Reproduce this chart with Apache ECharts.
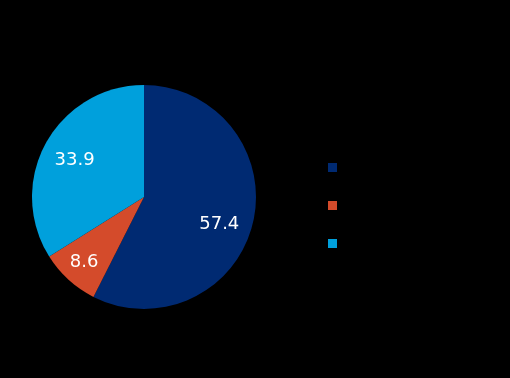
<!DOCTYPE html>
<html>
<head>
<meta charset="utf-8">
<script src="https://cdn.jsdelivr.net/npm/echarts@6/dist/echarts.min.js"></script>
<style>
  html, body { margin: 0; padding: 0; background: #000; }
  #chart { width: 510px; height: 378px; }
</style>
</head>
<body>
<div id="chart"></div>
<script>
const categories = ["Series A", "Series B", "Series C"];
const values = [57.4, 8.6, 33.9];
const colors = ["#002a72", "#d44b2b", "#00a0dc"];
// small nudges so the value labels sit where the reference puts them
const labelOffsets = [[-4, 8], [-5, 5], [2, 3]];

const chart = echarts.init(document.getElementById("chart"));

chart.setOption({
  backgroundColor: "#000",
  animation: false,
  legend: {
    orient: "vertical",
    left: 323,
    top: 156,
    itemWidth: 9,
    itemHeight: 9,
    itemGap: 25,
    icon: "rect",
    textStyle: { color: "#000", fontSize: 13, fontFamily: "DejaVu Sans" },
    data: categories,
  },
  series: [
    {
      type: "pie",
      center: [144, 197],
      radius: [0, 112],
      startAngle: 90,
      clockwise: true,
      label: { show: false },
      labelLine: { show: false },
      data: categories.map((name, i) => ({
        name,
        value: values[i],
        itemStyle: { color: colors[i] },
      })),
    },
    {
      // transparent ring, only there to place the value labels at ~70% radius
      type: "pie",
      center: [144, 197],
      radius: [45, 112],
      startAngle: 90,
      clockwise: true,
      silent: true,
      legendHoverLink: false,
      itemStyle: { color: "transparent" },
      label: {
        show: true,
        position: "inside",
        color: "#fff",
        fontSize: 18,
        fontFamily: "DejaVu Sans",
        formatter: (p) => p.value.toFixed(1),
      },
      labelLine: { show: false },
      data: categories.map((name, i) => ({
        name,
        value: values[i],
        label: { offset: labelOffsets[i] },
      })),
    },
  ],
});
</script>
</body>
</html>
